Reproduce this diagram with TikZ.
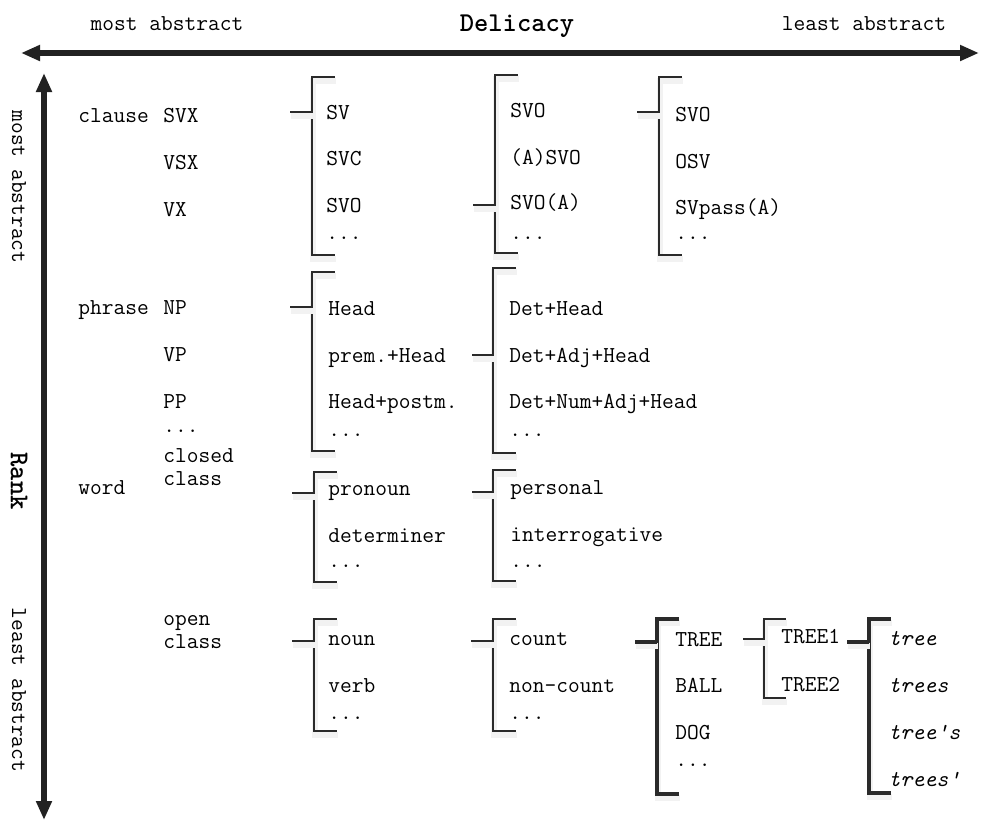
\documentclass[tikz,border=0pt]{standalone}
\usepackage{fontspec}
\usepackage{tikz}
\usepackage{xcolor}
\usetikzlibrary{arrows.meta,positioning}
\definecolor{AxisGray}{HTML}{222222}
\definecolor{BrackGray}{HTML}{2A2A2A}
\tikzset{
    % Item text
    itemtext/.style={
        anchor=mid west,
        inner sep=0pt,
        font=\ttfamily\fontsize{11.4}{11.5}\selectfont,
        align=left
    },
    % Word forms
    formtext/.style={
        itemtext,
        font=\ttfamily\itshape\fontsize{11.4}{11.5}\selectfont
    },
    % Axis captions
    axistext/.style={
        inner sep=0pt,
        font=\ttfamily\fontsize{11.4}{11.5}\selectfont
    },
    axistitle/.style={
        axistext,
        font=\ttfamily\bfseries\fontsize{13.6}{14}\selectfont
    },
    % Axis arrows
    axisarrow/.style={
        {Triangle[length=9.5pt,width=7.5pt]}-{Triangle[length=9.5pt,width=7.5pt]},
        line width=2.6pt,
        draw=AxisGray
    },
    % Bracket lines
    brack/.style={
        draw=BrackGray,
        line width=0.85pt,
        preaction={draw=black!5,line width=3pt,transform canvas={shift={(0.5pt,-2.2pt)}}}
    },
    thickbrack/.style={
        brack,
        line width=1.8pt
    }
}
\begin{document}
\begin{tikzpicture}[x=0.5pt,y=-0.5pt]
        \useasboundingbox (0,0) rectangle (982,821);

        % Axes
        \coordinate (dleft) at (21,53);
        \coordinate (dright) at (979,53);
        \coordinate (rtop) at (44,73);
        \coordinate (rbot) at (44,820);
        \draw[axisarrow] (dleft) -- (dright);
        \draw[axisarrow] (rbot) -- (rtop);

        % Axis captions
        \node[axistext] (dmost) at (167,24) {most abstract};
        \node[axistitle] (delicacy) at (517,26) {Delicacy};
        \node[axistext] (dleast) at (864,24) {least abstract};
        \node[axistext,rotate=-90] (rmost) at (19,187) {most abstract};
        \node[axistitle,rotate=-90] (rank) at (19,481) {Rank};
        \node[axistext,rotate=-90] (rleast) at (19,690) {least abstract};

        % Ranks
        \node[itemtext] (clause) at (78,118) {clause};
        \node[itemtext] (phrase) at (78,310) {phrase};
        \node[itemtext] (word) at (78,490) {word};

        % Units
        \node[itemtext] (svx) at (163,118) {SVX};
        \node[itemtext] (vsx) at (163,165) {VSX};
        \node[itemtext] (vx) at (163,212) {VX};
        \node[itemtext] (np) at (163,310) {NP};
        \node[itemtext] (vp) at (163,357) {VP};
        \node[itemtext] (pp) at (163,404) {PP};
        \node[itemtext] (ppdots) at (163,428) {...};
        \node[itemtext] (closed) at (163,481) {closed\\class};
        \node[itemtext] (open) at (163,644) {open\\class};

        % Clause systems
        \draw[brack] (335,77) -- (312,77) -- (312,255) -- (335,255);
        \draw[brack] (290,112) -- (312,112);
        \node[itemtext] (sv) at (326,115) {SV};
        \node[itemtext] (svc) at (326,161) {SVC};
        \node[itemtext] (svo) at (326,208) {SVO};
        \node[itemtext] (svdots) at (326,235) {...};

        \draw[brack] (518,75) -- (495,75) -- (495,253) -- (518,253);
        \draw[brack] (473,205) -- (495,205);
        \node[itemtext] (svoa) at (510,113) {SVO};
        \node[itemtext] (asvo) at (510,160) {(A)SVO};
        \node[itemtext] (svoaa) at (510,205) {SVO(A)};
        \node[itemtext] (svoadots) at (510,235) {...};

        \draw[brack] (682,77) -- (659,77) -- (659,255) -- (682,255);
        \draw[brack] (637,112) -- (659,112);
        \node[itemtext] (svob) at (675,117) {SVO};
        \node[itemtext] (osv) at (675,164) {OSV};
        \node[itemtext] (svpass) at (675,210) {SVpass(A)};
        \node[itemtext] (svpassdots) at (675,235) {...};

        % Phrase systems
        \draw[brack] (335,272) -- (312,272) -- (312,451) -- (335,451);
        \draw[brack] (290,307) -- (312,307);
        \node[itemtext] (head) at (328,311) {Head};
        \node[itemtext] (premhead) at (328,358) {prem.+Head};
        \node[itemtext] (headpostm) at (328,404) {Head+postm.};
        \node[itemtext] (headdots) at (328,432) {...};

        \draw[brack] (516,268) -- (493,268) -- (493,453) -- (516,453);
        \draw[brack] (472,355) -- (493,355);
        \node[itemtext] (dethead) at (509,311) {Det+Head};
        \node[itemtext] (detadj) at (509,358) {Det+Adj+Head};
        \node[itemtext] (detnum) at (509,404) {Det+Num+Adj+Head};
        \node[itemtext] (detdots) at (509,432) {...};

        % Closed class systems
        \draw[brack] (337,472) -- (314,472) -- (314,582) -- (337,582);
        \draw[brack] (292,493) -- (314,493);
        \node[itemtext] (pronoun) at (328,491) {pronoun};
        \node[itemtext] (determiner) at (328,538) {determiner};
        \node[itemtext] (prondots) at (328,563) {...};

        \draw[brack] (516,470) -- (493,470) -- (493,581) -- (516,581);
        \draw[brack] (472,492) -- (493,492);
        \node[itemtext] (personal) at (510,490) {personal};
        \node[itemtext] (interrog) at (510,537) {interrogative};
        \node[itemtext] (persdots) at (510,563) {...};

        % Open class systems
        \draw[brack] (337,619) -- (314,619) -- (314,731) -- (337,731);
        \draw[brack] (292,641) -- (314,641);
        \node[itemtext] (noun) at (328,641) {noun};
        \node[itemtext] (verb) at (328,688) {verb};
        \node[itemtext] (noundots) at (328,715) {...};

        \draw[brack] (516,619) -- (493,619) -- (493,731) -- (516,731);
        \draw[brack] (471,641) -- (493,641);
        \node[itemtext] (count) at (509,641) {count};
        \node[itemtext] (noncount) at (509,688) {non-count};
        \node[itemtext] (countdots) at (509,715) {...};

        \draw[thickbrack] (679,619) -- (657,619) -- (657,794) -- (679,794);
        \draw[thickbrack] (635,642) -- (657,642);
        \node[itemtext] (tree) at (675,642) {TREE};
        \node[itemtext] (ball) at (675,688) {BALL};
        \node[itemtext] (dog) at (675,735) {DOG};
        \node[itemtext] (treedots) at (675,762) {...};

        \draw[brack] (786,619) -- (764,619) -- (764,698) -- (786,698);
        \draw[brack] (743,639) -- (764,639);
        \node[itemtext] (treeone) at (781,639) {TREE1};
        \node[itemtext] (treetwo) at (781,687) {TREE2};

        \draw[thickbrack] (891,619) -- (869,619) -- (869,793) -- (891,793);
        \draw[thickbrack] (847,642) -- (869,642);
        \node[formtext] (ftree) at (888,641) {tree};
        \node[formtext] (ftrees) at (888,688) {trees};
        \node[formtext] (ftreegen) at (888,735) {tree\textquotesingle s};
        \node[formtext] (ftreesgen) at (888,782) {trees\textquotesingle};
    \end{tikzpicture}
\end{document}
